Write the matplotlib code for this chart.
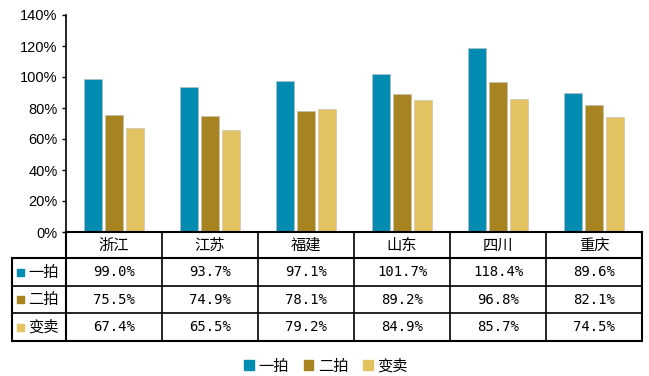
import matplotlib.pyplot as plt
from matplotlib.lines import Line2D
from matplotlib.patches import Rectangle
import numpy as np

plt.rcParams['font.family'] = ['Noto Sans CJK SC', 'DejaVu Sans']

provinces = ['浙江', '江苏', '福建', '山东', '四川', '重庆']
series_names = ['一拍', '二拍', '变卖']
first_auction = [99.0, 93.7, 97.1, 101.7, 118.4, 89.6]
second_auction = [75.5, 74.9, 78.1, 89.2, 96.8, 82.1]
sale = [67.4, 65.5, 79.2, 84.9, 85.7, 74.5]
colors = ['#008BB0', '#A88421', '#E3C262']

series = [first_auction, second_auction, sale]

W, H = 649, 376
fig = plt.figure(figsize=(W / 100, H / 100), dpi=100)

# axes box in pixels
ax_l, ax_r, ax_t, ax_b = 66, 642, 15, 232
ax = fig.add_axes([ax_l / W, 1 - ax_b / H, (ax_r - ax_l) / W, (ax_b - ax_t) / H])

x = np.arange(len(provinces))
bw = 0.18
step = 0.22
for i, (vals, c) in enumerate(zip(series, colors)):
    ax.bar(x + (i - 1) * step, vals, width=bw, color=c, edgecolor='#bfbfbf',
           linewidth=0.4, label=series_names[i], zorder=2)

ax.set_xlim(-0.5, len(provinces) - 0.5)
ax.set_ylim(0, 140)
ax.set_yticks(range(0, 141, 20))
ax.set_yticklabels([f'{v}%' for v in range(0, 141, 20)],
                   fontfamily='Liberation Sans', fontsize=10.5)
ax.set_xticks([])
ax.tick_params(axis='y', length=3, width=1, direction='out', pad=3)
for s in ['top', 'right', 'bottom']:
    ax.spines[s].set_visible(False)
ax.spines['left'].set_linewidth(1.2)


def fx(px):
    return px / W


def fy(py):
    return 1 - py / H


def hline(x0, x1, y, lw=1.2):
    fig.add_artist(Line2D([fx(x0), fx(x1)], [fy(y), fy(y)], color='black', lw=lw))


def vline(xp, y0, y1, lw=1.2):
    fig.add_artist(Line2D([fx(xp), fx(xp)], [fy(y0), fy(y1)], color='black', lw=lw))


cjk = ['Noto Sans CJK SC', 'DejaVu Sans']
mono = ['DejaVu Sans Mono']

# data table under the bars
tab_l = 12
rows_y = [232, 258, 286, 313, 341]
cell_w = (ax_r - ax_l) / len(provinces)
col_x = [ax_l + k * cell_w for k in range(len(provinces) + 1)]

hline(ax_l, ax_r, rows_y[0], lw=1.5)
for yy in rows_y[1:]:
    hline(tab_l, ax_r, yy, lw=1.5 if yy in (rows_y[1], rows_y[-1]) else 1.2)
for xp in col_x:
    vline(xp, rows_y[0], rows_y[-1], lw=1.5 if xp in (col_x[0], col_x[-1]) else 1.2)
vline(tab_l, rows_y[1], rows_y[-1], lw=1.5)

for k, name in enumerate(provinces):
    cx = col_x[k] + cell_w / 2
    fig.text(fx(cx), fy((rows_y[0] + rows_y[1]) / 2), name, ha='center', va='center',
             fontsize=11, family=cjk)

for r, (vals, c, nm) in enumerate(zip(series, colors, series_names)):
    cy = (rows_y[r + 1] + rows_y[r + 2]) / 2
    fig.add_artist(Rectangle((fx(17), fy(cy + 3.5)), 7 / W, 7 / H, color=c,
                             transform=fig.transFigure))
    fig.text(fx(28), fy(cy), nm, ha='left', va='center', fontsize=11, family=cjk)
    for k, v in enumerate(vals):
        cx = col_x[k] + cell_w / 2
        fig.text(fx(cx), fy(cy), f'{v:.1f}%', ha='center', va='center', fontsize=10,
                 family=mono)

handles = [Rectangle((0, 0), 1, 1, color=c) for c in colors]
fig.legend(handles, series_names, loc='center', bbox_to_anchor=(fx(326), fy(366)),
           ncol=3, frameon=False, prop={'family': cjk, 'size': 11},
           handlelength=0.6, handleheight=0.6, handletextpad=0.3, columnspacing=1.0)

fig.savefig('out.png', dpi=100)
